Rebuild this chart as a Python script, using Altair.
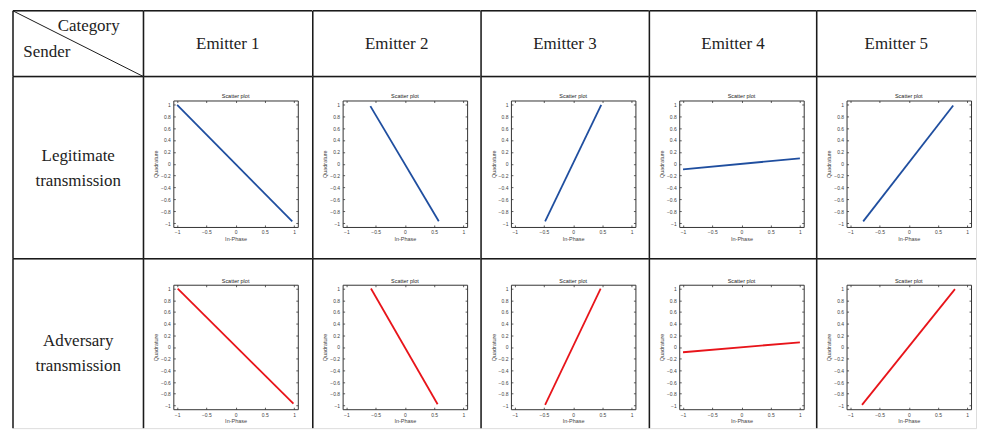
import altair as alt
import pandas as pd

# ---------------- data ----------------
categories = ["Emitter 1", "Emitter 2", "Emitter 3", "Emitter 4", "Emitter 5"]
row_labels = [["Legitimate", "transmission"], ["Adversary", "transmission"]]
corner_top = "Category"
corner_bottom = "Sender"
panel_title = "Scatter plot"
x_title = "In-Phase"
y_title = "Quadrature"

# start / end of each scatter trace (In-Phase, Quadrature)
legit_x = [[-1.0, 0.97], [-0.59, 0.58], [-0.48, 0.48], [-1.0, 1.0], [-0.78, 0.76]]
legit_y = [[0.99, -0.97], [0.97, -0.97], [-0.97, 0.99], [-0.095, 0.09], [-0.97, 0.98]]
adv_x = [[-0.99, 0.99], [-0.58, 0.56], [-0.48, 0.47], [-1.0, 1.0], [-0.8, 0.79]]
adv_y = [[1.0, -0.97], [1.0, -0.98], [-0.99, 1.0], [-0.09, 0.08], [-0.99, 0.99]]

x_ticks = [-1, -0.5, 0, 0.5, 1]
y_ticks = [-1, -0.8, -0.6, -0.4, -0.2, 0, 0.2, 0.4, 0.6, 0.8, 1]
axis_domain = [-1.065, 1.065]

# ---------------- layout / style ----------------
SERIF = "Liberation Serif"
SANS = "Liberation Sans"
LINE = "#1a1a1a"
LW = 1.5
BLUE = "#1f4e9f"
RED = "#e8141a"
col_w = [131, 169.5, 168.5, 168.5, 168, 160]
row_h = [66, 183, 170]
FL, FR, FB = 30, 155, 151
FT = [24, 26]
label_y = [80, 83]


def blank():
    return alt.Chart(alt.Data(values=[{}]))


def borders(W, H):
    return [
        blank().mark_rule(color=LINE, strokeWidth=LW).encode(
            x=alt.value(0), y=alt.value(0), y2=alt.value(H)),
        blank().mark_rule(color=LINE, strokeWidth=LW).encode(
            x=alt.value(0), x2=alt.value(W), y=alt.value(0)),
    ]


def corner_cell(W, H):
    layers = borders(W, H)
    layers.append(blank().mark_rule(color=LINE, strokeWidth=1).encode(
        x=alt.value(0), x2=alt.value(W), y=alt.value(0), y2=alt.value(H)))
    layers.append(blank().mark_text(text=corner_top, font=SERIF, fontSize=17, color="#222",
                                    align="center", baseline="middle").encode(
        x=alt.value(76), y=alt.value(15)))
    layers.append(blank().mark_text(text=corner_bottom, font=SERIF, fontSize=17, color="#222",
                                    align="center", baseline="middle").encode(
        x=alt.value(34), y=alt.value(41)))
    return alt.layer(*layers).properties(width=W, height=H)


def text_cell(txt, W, H, y):
    layers = borders(W, H)
    layers.append(blank().mark_text(text=txt, font=SERIF, fontSize=17, color="#222",
                                    align="center", baseline="middle", lineHeight=25).encode(
        x=alt.value(W / 2), y=alt.value(y)))
    return alt.layer(*layers).properties(width=W, height=H)


def scatter_cell(xs, ys, color, W, H, ft):
    df = pd.DataFrame({"x": xs, "y": ys})
    xsc = alt.Scale(domain=axis_domain, range=[FL, FR], nice=False, zero=False)
    ysc = alt.Scale(domain=axis_domain, range=[FB, ft], nice=False, zero=False)
    lab = dict(labelFont=SANS, labelFontSize=5, labelColor="#444", labelFlush=False,
               labelOverlap=False, grid=False, domainColor="#333", domainWidth=1,
               tickColor="#333", tickWidth=0.8)
    a = alt.Chart(df).mark_line(color=color, strokeWidth=1.8).encode(
        x=alt.X("x:Q", scale=xsc, axis=alt.Axis(
            orient="bottom", offset=FB - H, values=x_ticks, format="~g", ticks=False,
            labelPadding=3, title=x_title, titleFont=SANS, titleFontSize=5.5,
            titleFontWeight="normal", titleColor="#444", titlePadding=1.5, **lab)),
        y=alt.Y("y:Q", scale=ysc, axis=alt.Axis(
            orient="left", offset=-FL, values=y_ticks, format="~g", ticks=False,
            labelPadding=3, title=y_title, titleFont=SANS, titleFontSize=5.5,
            titleFontWeight="normal", titleColor="#444", titlePadding=2, **lab)),
    )
    b = alt.Chart(df).mark_line(opacity=0).encode(
        x=alt.X("x:Q", scale=xsc, axis=alt.Axis(
            orient="top", offset=-FB, values=x_ticks, labels=False, domain=False,
            tickSize=2, title=None, **lab)),
        y=alt.Y("y:Q", scale=ysc, axis=alt.Axis(
            orient="right", offset=FL - W, values=y_ticks, labels=False, domain=False,
            tickSize=2, title=None, **lab)),
    )
    c = alt.Chart(df).mark_line(opacity=0).encode(
        x=alt.X("x:Q", scale=xsc, axis=alt.Axis(
            orient="bottom", offset=ft - H, values=x_ticks, labels=False, domain=True,
            tickSize=2, title=None, **lab)),
        y=alt.Y("y:Q", scale=ysc, axis=alt.Axis(
            orient="left", offset=-FR, values=y_ticks, labels=False, domain=True,
            tickSize=2, title=None, **lab)),
    )
    t = blank().mark_text(text=panel_title, font=SANS, fontSize=5.5, color="#222",
                          align="center", baseline="bottom").encode(
        x=alt.value((FL + FR) / 2), y=alt.value(ft - 1))
    layers = borders(W, H) + [a, b, c, t]
    return alt.layer(*layers).resolve_axis(x="independent", y="independent").properties(
        width=W, height=H)


header = [corner_cell(col_w[0], row_h[0])] + [
    text_cell(categories[i], col_w[i + 1], row_h[0], row_h[0] / 2) for i in range(5)]
row1 = [text_cell(row_labels[0], col_w[0], row_h[1], label_y[0])] + [
    scatter_cell(legit_x[i], legit_y[i], BLUE, col_w[i + 1], row_h[1], FT[0]) for i in range(5)]
row2 = [text_cell(row_labels[1], col_w[0], row_h[2], label_y[1])] + [
    scatter_cell(adv_x[i], adv_y[i], RED, col_w[i + 1], row_h[2], FT[1]) for i in range(5)]

chart = alt.concat(*(header + row1 + row2), columns=6, spacing=0, bounds="flush").properties(
    padding={"left": 3, "top": 0, "right": 0, "bottom": 0}
).configure_view(stroke=None).configure(background="white")

chart.save("out.html", embed_options={"renderer": "svg", "actions": False})
